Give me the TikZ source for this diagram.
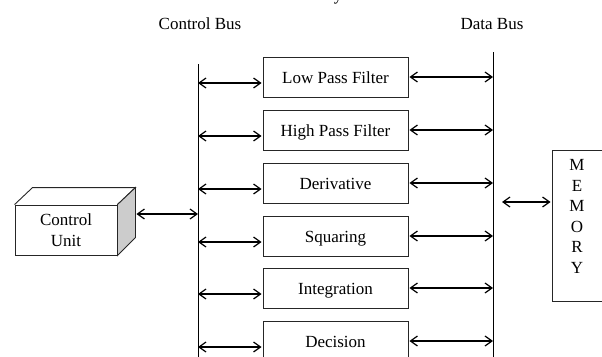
\documentclass[tikz,border=0pt]{standalone}
\usepackage{fontspec}
\setmainfont{Liberation Serif}
\usetikzlibrary{arrows.meta}

\tikzset{
  lbl/.style={font=\fontsize{17}{20}\selectfont, inner sep=0pt},
  blockbox/.style={draw=black!85, line width=0.9pt, minimum width=145pt, minimum height=40pt,
    inner sep=0pt, font=\fontsize{17}{20}\selectfont, text height=12pt, text depth=0pt},
  busline/.style={line width=1pt, black},
  biarrow/.style={line width=1.2pt, {Straight Barb[length=7pt,width=10pt]}-{Straight Barb[length=7pt,width=10pt]}},
}

\begin{document}
\begin{tikzpicture}[x=1pt, y=-1pt]
  \useasboundingbox (0,0) rectangle (602,356);
  \clip (0,0) rectangle (602,356);

  % heading left over from the line above
  \node[lbl, anchor=base] (headfrag) at (338,1) {y};

  % bus labels
  \node[lbl, anchor=base] (cblabel) at (200,29) {Control Bus};
  \node[lbl, anchor=base] (dblabel) at (492,29) {Data Bus};

  % buses
  \coordinate (cbtop) at (198,64);
  \coordinate (cbbot) at (198,360);
  \coordinate (dbtop) at (493,52);
  \coordinate (dbbot) at (493,360);
  \draw[busline] (cbtop) -- (cbbot);
  \draw[busline] (dbtop) -- (dbbot);

  % processing stages
  \node[blockbox] (lpf)  at (335.5,77)  {Low Pass Filter};
  \node[blockbox] (hpf)  at (335.5,130) {High Pass Filter};
  \node[blockbox] (der)  at (335.5,183) {Derivative};
  \node[blockbox] (sqr)  at (335.5,236) {Squaring};
  \node[blockbox] (intg) at (335.5,288) {Integration};
  \node[blockbox] (dec)  at (335.5,341) {Decision};

  \foreach \b in {lpf,hpf,der,sqr,intg,dec}{
    \draw[biarrow] ([yshift=-6pt]\b.west -| cbtop) -- ([yshift=-6pt,xshift=-1pt]\b.west);
    \draw[biarrow] ([xshift=1pt]\b.east) -- (\b.east -| dbtop);
  }

  % control unit (box drawn in perspective)
  \node[draw=black!85, line width=0.9pt, minimum width=102pt, minimum height=50pt, inner sep=0pt,
        align=center, font=\fontsize{17}{21}\selectfont] (cu) at (66,230) {Control\\Unit};
  \draw[line width=0.9pt, draw=black!85] (cu.north west) -- ++(18,-17) -- ([xshift=18pt,yshift=17pt]cu.north east) -- (cu.north east);
  \draw[line width=0.9pt, draw=black!85, fill=black!20] (cu.north east) -- ++(18,-17) coordinate (cuback)
        -- ++(0,50) -- (cu.south east) -- cycle;
  \draw[biarrow] ([xshift=1pt]cuback |- 0,214) -- (cbtop |- 0,214);

  % memory
  \node[draw=black!85, line width=0.9pt, minimum width=52pt, minimum height=151pt, inner sep=0pt] (mem) at (578,225.5) {};
  \node[font=\fontsize{17}{20.5}\selectfont, align=center, inner sep=0pt] (memtext) at (577,216.5) {M\\E\\M\\O\\R\\Y};
  \draw[biarrow] (dbtop |- 0,202) ++(9,0) -- ([xshift=-1pt]mem.west |- 0,202);
\end{tikzpicture}
\end{document}
